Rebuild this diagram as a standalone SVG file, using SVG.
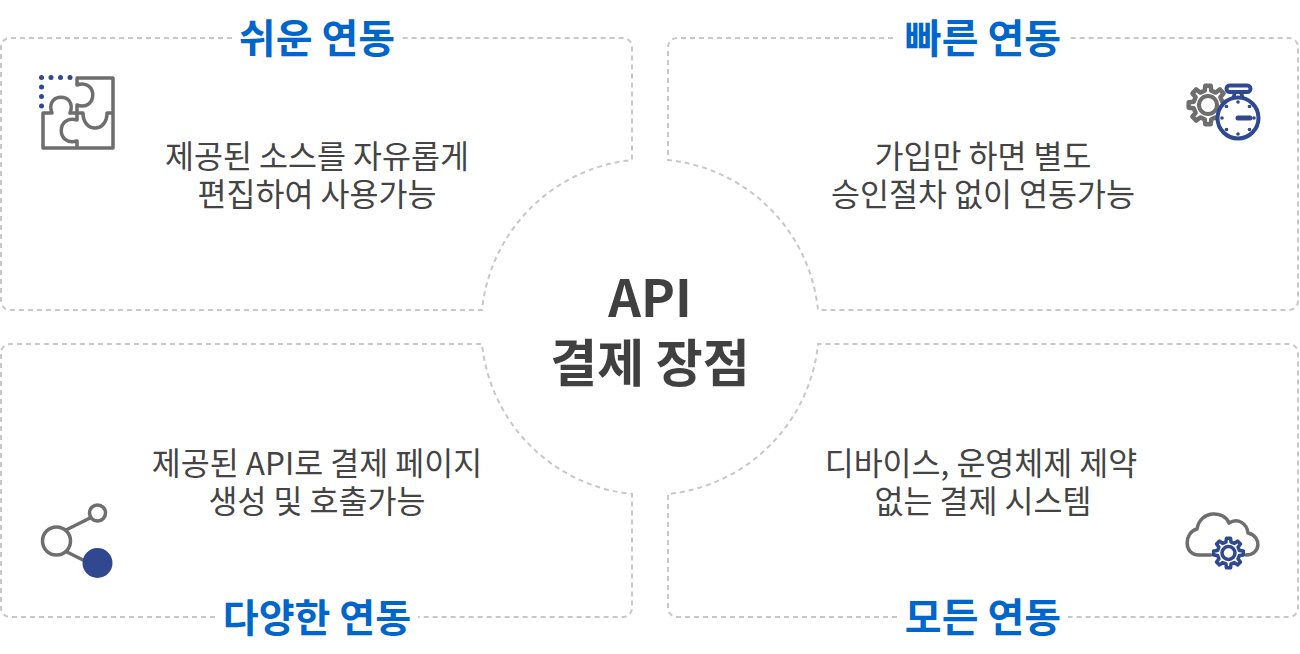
<svg xmlns="http://www.w3.org/2000/svg" width="1300" height="654" viewBox="0 0 1300 654">
<style>
.dash{fill:none;stroke:#c8c8c8;stroke-width:2;stroke-dasharray:5 4}
text{font-family:"Noto Sans CJK KR","Noto Sans",sans-serif;text-anchor:middle}
.t{font-size:40px;font-weight:700;fill:#0066cc}
.b{font-size:31.5px;fill:#444}
.c{font-size:51px;font-weight:700;fill:#404040}
.g{fill:none;stroke:#6e6e6e;stroke-width:3.5;stroke-linejoin:round;stroke-linecap:round}
.n{fill:none;stroke:#30488f;stroke-width:3.5;stroke-linejoin:round;stroke-linecap:round}
.d{fill:#30488f}
</style>
<defs>
<path id="gear" vector-effect="non-scaling-stroke" d="M.731-.169L.99-.139V.139L.731.169L.636.397L.799.602L.602.799L.397.636L.169.731L.139.99H-.139L-.169.731L-.397.636L-.602.799L-.799.602L-.636.397L-.731.169L-.99.139V-.139L-.731-.169L-.636-.397L-.799-.602L-.602-.799L-.397-.636L-.169-.731L-.139-.99H.139L.169-.731L.397-.636L.602-.799L.799-.602L.636-.397Z"/>
</defs>
<g id="connectors">
<path class="dash" d="M232 38H10A9 9 0 0 0 1 47V301A9 9 0 0 0 10 310H482A168 168 0 0 1 632 160V47A9 9 0 0 0 623 38H400"/>
<path class="dash" d="M893 38H677A9 9 0 0 0 668 47V160A168 168 0 0 1 818 310H1289A9 9 0 0 0 1298 301V47A9 9 0 0 0 1289 38H1068"/>
<path class="dash" d="M215 617H10A9 9 0 0 1 1 608V353A9 9 0 0 1 10 344H482A168 168 0 0 0 632 494V608A9 9 0 0 1 623 617H418"/>
<path class="dash" d="M897 617H677A9 9 0 0 1 668 608V494A168 168 0 0 0 818 344H1289A9 9 0 0 1 1298 353V608A9 9 0 0 1 1289 617H1068"/>
</g>
<g id="node-center"><text class="c" x="650" y="317">API</text><text class="c" x="650" y="382">결제 장점</text></g>
<g id="node-easy">
<text class="t" x="317" y="53">쉬운 연동</text>
<text class="b" x="317" y="168">제공된 소스를 자유롭게</text>
<text class="b" x="317" y="206">편집하여 사용가능</text>
<path class="g" d="M77 85V78H113V148H43V113H52C44 92 78 92 70 113H83C83 133 107 133 107 113H113M77 85C98 78 98 112 77 105V120C56 114 56 147 77 141V148M70 113H77"/>
<g class="d"><circle cx="41.500" cy="77.500" r="2.500"/><circle cx="51" cy="77.500" r="2.500"/><circle cx="60.500" cy="77.500" r="2.500"/><circle cx="70" cy="77.500" r="2.500"/><circle cx="41.500" cy="87" r="2.500"/><circle cx="41.500" cy="96.500" r="2.500"/><circle cx="41.500" cy="106" r="2.500"/></g>
</g>
<g id="node-fast">
<text class="t" x="983" y="53">빠른 연동</text>
<text class="b" x="983" y="168">가입만 하면 별도</text>
<text class="b" x="983" y="206">승인절차 없이 연동가능</text>
<use href="#gear" transform="translate(1208 105) scale(19.500)" class="g" style="stroke-width:4.500"/>
<circle class="g" cx="1208" cy="105" r="9" style="stroke-width:4"/>
<rect class="n" x="1226.500" y="85.500" width="24" height="6.500" rx="3.200" style="fill:#fff;stroke-width:4"/>
<path class="n" d="M1235 93L1233 98H1243L1241 93"/>
<circle class="n" cx="1238" cy="118" r="20.500" style="fill:#fff;stroke-width:4"/>
<path class="n" d="M1238 118H1250" style="stroke-width:5"/>
<g class="d"><circle cx="1238" cy="102" r="1.800"/><circle cx="1254" cy="118" r="1.800"/><circle cx="1238" cy="134" r="1.800"/><circle cx="1222" cy="118" r="1.800"/><circle cx="1249.500" cy="106.500" r="1.800"/><circle cx="1249.500" cy="129.500" r="1.800"/><circle cx="1226.500" cy="129.500" r="1.800"/><circle cx="1226.500" cy="106.500" r="1.800"/></g>
</g>
<g id="node-various">
<text class="t" x="317" y="632" style="font-size:39px">다양한 연동</text>
<text class="b" x="317" y="475">제공된 API로 결제 페이지</text>
<text class="b" x="317" y="513">생성 및 호출가능</text>
<path class="g" d="M66 530L90 518M67 552L85 561"/>
<circle class="g" cx="97.500" cy="513" r="8"/>
<circle class="g" cx="56.500" cy="541" r="14"/>
<circle class="d" cx="97.500" cy="563" r="15"/>
</g>
<g id="node-all">
<text class="t" x="983" y="632">모든 연동</text>
<text class="b" x="981" y="475">디바이스, 운영체제 제약</text>
<text class="b" x="983" y="513">없는 결제 시스템</text>
<path class="g" d="M1211 555H1199C1183 555 1184 532 1197 529C1200 510 1224 510 1229 523C1238 517 1247 524 1248 533C1262 536 1261 555 1246 555"/>
<use href="#gear" transform="translate(1228.500 553) scale(15)" class="n"/>
<circle class="n" cx="1228.500" cy="553" r="6.500"/>
</g>
</svg>
